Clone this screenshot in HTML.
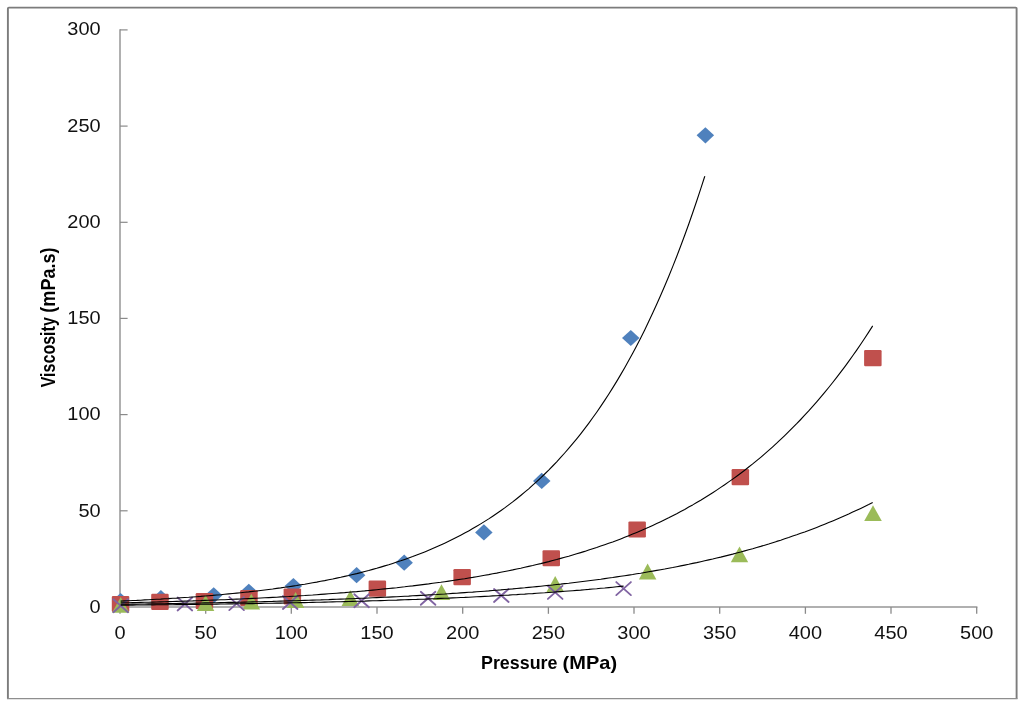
<!DOCTYPE html>
<html><head><meta charset="utf-8"><title>Viscosity vs Pressure</title>
<style>
html,body{margin:0;padding:0;background:#fff;}
body{width:1024px;height:719px;overflow:hidden;font-family:"Liberation Sans",sans-serif;}
svg{display:block;}
text{font-family:"Liberation Sans",sans-serif;fill:#111;}
.tl{font-size:18.4px;}
.tt{font-size:18px;font-weight:bold;fill:#000;}
</style></head><body>
<svg width="1024" height="719" viewBox="0 0 1024 719">
<rect x="0" y="0" width="1024" height="719" fill="#ffffff"/>

<path d="M7.9 698.7 L7.9 8.6 Q7.9 7.6 8.9 7.6 L1015.6 7.6 Q1016.6 7.6 1016.6 8.6 L1016.6 698.7" fill="none" stroke="#7c7c7c" stroke-width="1.9"/>
<path d="M7 698.7 L1017.5 698.7" fill="none" stroke="#8e8e8e" stroke-width="1.2"/>
<g stroke="#969696" stroke-width="1.5" fill="none">
<path d="M120 29.3 L120 613.8"/>
<path d="M120 607 L977.4 607"/>
</g>
<g stroke="#8a8a8a" stroke-width="1.2" fill="none">
<path d="M120 607.0 L127.6 607.0"/>
<path d="M120 510.8 L127.6 510.8"/>
<path d="M120 414.6 L127.6 414.6"/>
<path d="M120 318.4 L127.6 318.4"/>
<path d="M120 222.3 L127.6 222.3"/>
<path d="M120 126.1 L127.6 126.1"/>
<path d="M120 29.9 L127.6 29.9"/>
</g><g stroke="#8a8a8a" stroke-width="1.3" fill="none">
<path d="M205.7 607 L205.7 613.8"/>
<path d="M291.3 607 L291.3 613.8"/>
<path d="M377.0 607 L377.0 613.8"/>
<path d="M462.7 607 L462.7 613.8"/>
<path d="M548.4 607 L548.4 613.8"/>
<path d="M634.0 607 L634.0 613.8"/>
<path d="M719.7 607 L719.7 613.8"/>
<path d="M805.4 607 L805.4 613.8"/>
<path d="M891.0 607 L891.0 613.8"/>
<path d="M976.7 607 L976.7 613.8"/>
</g>
<g opacity="0.999">
<text class="tl" text-anchor="end" transform="translate(100.6 613.2) scale(1.085 1)">0</text>
<text class="tl" text-anchor="end" transform="translate(100.6 517.0) scale(1.085 1)">50</text>
<text class="tl" text-anchor="end" transform="translate(100.6 420.0) scale(1.085 1)">100</text>
<text class="tl" text-anchor="end" transform="translate(100.6 323.8) scale(1.085 1)">150</text>
<text class="tl" text-anchor="end" transform="translate(100.6 227.7) scale(1.085 1)">200</text>
<text class="tl" text-anchor="end" transform="translate(100.6 131.5) scale(1.085 1)">250</text>
<text class="tl" text-anchor="end" transform="translate(100.6 35.3) scale(1.085 1)">300</text>
<text class="tl" text-anchor="middle" transform="translate(120.0 639) scale(1.085 1)">0</text>
<text class="tl" text-anchor="middle" transform="translate(205.7 639) scale(1.085 1)">50</text>
<text class="tl" text-anchor="middle" transform="translate(291.3 639) scale(1.085 1)">100</text>
<text class="tl" text-anchor="middle" transform="translate(377.0 639) scale(1.085 1)">150</text>
<text class="tl" text-anchor="middle" transform="translate(462.7 639) scale(1.085 1)">200</text>
<text class="tl" text-anchor="middle" transform="translate(548.4 639) scale(1.085 1)">250</text>
<text class="tl" text-anchor="middle" transform="translate(634.0 639) scale(1.085 1)">300</text>
<text class="tl" text-anchor="middle" transform="translate(719.7 639) scale(1.085 1)">350</text>
<text class="tl" text-anchor="middle" transform="translate(805.4 639) scale(1.085 1)">400</text>
<text class="tl" text-anchor="middle" transform="translate(891.0 639) scale(1.085 1)">450</text>
<text class="tl" text-anchor="middle" transform="translate(976.7 639) scale(1.085 1)">500</text>
<text class="tt" transform="translate(481 669.2) scale(0.993 1)">Pressure</text>
<text class="tt" transform="translate(562.6 669.2) scale(1.113 1)">(MPa)</text>
<text class="tt" transform="translate(55 387.3) rotate(-90) scale(0.892 1.085)">Viscosity</text>
<text class="tt" transform="translate(55 312.65) rotate(-90) scale(1.003 1.085)">(mPa.s)</text>
</g>
<g fill="#4f81bd">
<path d="M120.6 592.9 L129.3 601.0 L120.6 609.1 L111.8 601.0 Z"/>
<path d="M160.9 590.1 L169.7 598.2 L160.9 606.3 L152.2 598.2 Z"/>
<path d="M213.7 587.2 L222.4 595.3 L213.7 603.4 L204.9 595.3 Z"/>
<path d="M248.8 583.7 L257.6 591.8 L248.8 599.9 L240.1 591.8 Z"/>
<path d="M293.4 577.9 L302.1 586.0 L293.4 594.1 L284.6 586.0 Z"/>
<path d="M356.6 567.1 L365.4 575.2 L356.6 583.3 L347.9 575.2 Z"/>
<path d="M404.2 554.6 L412.9 562.7 L404.2 570.8 L395.4 562.7 Z"/>
<path d="M483.9 524.3 L492.6 532.4 L483.9 540.5 L475.1 532.4 Z"/>
<path d="M541.7 472.8 L550.5 480.9 L541.7 489.0 L533.0 480.9 Z"/>
<path d="M630.8 329.9 L639.5 338.0 L630.8 346.1 L622.0 338.0 Z"/>
<path d="M705.4 127.2 L714.1 135.3 L705.4 143.4 L696.6 135.3 Z"/>
</g><g fill="#c0504d">
<rect x="111.8" y="595.9" width="17.5" height="16.1" rx="1.2" ry="1.2"/>
<rect x="151.2" y="593.8" width="17.5" height="16.1" rx="1.2" ry="1.2"/>
<rect x="195.7" y="593.0" width="17.5" height="16.1" rx="1.2" ry="1.2"/>
<rect x="240.2" y="590.0" width="17.5" height="16.1" rx="1.2" ry="1.2"/>
<rect x="283.6" y="588.4" width="17.5" height="16.1" rx="1.2" ry="1.2"/>
<rect x="368.6" y="580.6" width="17.5" height="16.1" rx="1.2" ry="1.2"/>
<rect x="453.4" y="569.1" width="17.5" height="16.1" rx="1.2" ry="1.2"/>
<rect x="542.5" y="550.2" width="17.5" height="16.1" rx="1.2" ry="1.2"/>
<rect x="628.4" y="521.4" width="17.5" height="16.1" rx="1.2" ry="1.2"/>
<rect x="731.6" y="469.1" width="17.5" height="16.1" rx="1.2" ry="1.2"/>
<rect x="864.1" y="350.1" width="17.5" height="16.1" rx="1.2" ry="1.2"/>
</g><g fill="#9bbb59">
<path d="M120.7 597.0 L129.4 612.8 L112.0 612.8 Z"/>
<path d="M205.6 595.1 L214.3 610.9 L196.8 610.9 Z"/>
<path d="M251.3 593.7 L260.1 609.5 L242.6 609.5 Z"/>
<path d="M295.6 592.1 L304.4 607.9 L286.9 607.9 Z"/>
<path d="M350.3 590.3 L359.1 606.1 L341.6 606.1 Z"/>
<path d="M441.5 584.3 L450.2 600.1 L432.8 600.1 Z"/>
<path d="M555.2 576.1 L564.0 591.9 L546.5 591.9 Z"/>
<path d="M647.6 563.6 L656.4 579.4 L638.9 579.4 Z"/>
<path d="M739.5 546.4 L748.2 562.2 L730.8 562.2 Z"/>
<path d="M873.0 505.3 L881.8 521.1 L864.2 521.1 Z"/>
</g><g stroke="#8064a2" stroke-width="1.85" stroke-linecap="round" fill="none">
<path d="M113.4 599.2 L128.0 612.2 M113.4 612.2 L128.0 599.2"/>
<path d="M177.6 597.5 L192.2 610.5 M177.6 610.5 L192.2 597.5"/>
<path d="M229.3 597.1 L243.9 610.1 M229.3 610.1 L243.9 597.1"/>
<path d="M282.9 596.0 L297.5 609.0 M282.9 609.0 L297.5 596.0"/>
<path d="M354.3 594.2 L368.9 607.2 M354.3 607.2 L368.9 594.2"/>
<path d="M420.8 591.8 L435.4 604.8 M420.8 604.8 L435.4 591.8"/>
<path d="M494.0 589.0 L508.6 602.0 M494.0 602.0 L508.6 589.0"/>
<path d="M547.9 585.9 L562.5 598.9 M547.9 598.9 L562.5 585.9"/>
<path d="M616.3 582.1 L630.9 595.1 M616.3 595.1 L630.9 582.1"/>
</g>
<g stroke="#000" stroke-width="1.1" fill="none" stroke-linejoin="round">
<path d="M120.7 601.1 L124.7 600.9 L128.7 600.7 L132.7 600.5 L136.7 600.4 L140.7 600.2 L144.7 599.9 L148.7 599.7 L152.7 599.5 L156.7 599.3 L160.7 599.1 L164.7 598.8 L168.7 598.6 L172.7 598.3 L176.7 598.1 L180.7 597.8 L184.7 597.5 L188.7 597.3 L192.7 597.0 L196.7 596.7 L200.7 596.4 L204.7 596.0 L208.7 595.7 L212.7 595.4 L216.7 595.0 L220.7 594.7 L224.7 594.3 L228.7 593.9 L232.7 593.5 L236.7 593.1 L240.7 592.7 L244.7 592.3 L248.7 591.9 L252.7 591.4 L256.7 591.0 L260.7 590.5 L264.7 590.0 L268.7 589.5 L272.7 589.0 L276.7 588.4 L280.7 587.9 L284.7 587.3 L288.7 586.7 L292.7 586.1 L296.7 585.5 L300.7 584.8 L304.7 584.2 L308.7 583.5 L312.7 582.8 L316.7 582.1 L320.7 581.3 L324.7 580.6 L328.7 579.8 L332.7 579.0 L336.7 578.1 L340.7 577.3 L344.7 576.4 L348.7 575.5 L352.7 574.5 L356.7 573.6 L360.7 572.6 L364.7 571.5 L368.7 570.5 L372.7 569.4 L376.7 568.3 L380.7 567.1 L384.7 565.9 L388.7 564.7 L392.7 563.4 L396.7 562.1 L400.7 560.8 L404.7 559.4 L408.7 558.0 L412.7 556.6 L416.7 555.0 L420.7 553.5 L424.7 551.9 L428.7 550.3 L432.7 548.6 L436.7 546.8 L440.7 545.0 L444.7 543.2 L448.7 541.3 L452.7 539.3 L456.7 537.3 L460.7 535.2 L464.7 533.1 L468.7 530.9 L472.7 528.6 L476.7 526.3 L480.7 523.9 L484.7 521.4 L488.7 518.9 L492.7 516.2 L496.7 513.5 L500.7 510.7 L504.7 507.9 L508.7 504.9 L512.7 501.9 L516.7 498.7 L520.7 495.5 L524.7 492.2 L528.7 488.8 L532.7 485.2 L536.7 481.6 L540.7 477.9 L544.7 474.0 L548.7 470.1 L552.7 466.0 L556.7 461.8 L560.7 457.4 L564.7 453.0 L568.7 448.4 L572.7 443.7 L576.7 438.8 L580.7 433.8 L584.7 428.6 L588.7 423.3 L592.7 417.8 L596.7 412.2 L600.7 406.4 L604.7 400.4 L608.7 394.2 L612.7 387.9 L616.7 381.4 L620.7 374.6 L624.7 367.7 L628.7 360.6 L632.7 353.2 L636.7 345.7 L640.7 337.9 L644.7 329.9 L648.7 321.6 L652.7 313.1 L656.7 304.3 L660.7 295.3 L664.7 286.0 L668.7 276.5 L672.7 266.6 L676.7 256.5 L680.7 246.0 L684.7 235.3 L688.7 224.2 L692.7 212.8 L696.7 201.0 L700.7 188.9 L704.7 176.5 L704.8 176.1"/>
<path d="M120.7 602.9 L124.7 602.8 L128.7 602.7 L132.7 602.6 L136.7 602.5 L140.7 602.4 L144.7 602.3 L148.7 602.2 L152.7 602.1 L156.7 602.0 L160.7 601.9 L164.7 601.8 L168.7 601.6 L172.7 601.5 L176.7 601.4 L180.7 601.3 L184.7 601.1 L188.7 601.0 L192.7 600.9 L196.7 600.7 L200.7 600.6 L204.7 600.4 L208.7 600.3 L212.7 600.1 L216.7 600.0 L220.7 599.8 L224.7 599.7 L228.7 599.5 L232.7 599.3 L236.7 599.1 L240.7 599.0 L244.7 598.8 L248.7 598.6 L252.7 598.4 L256.7 598.2 L260.7 598.0 L264.7 597.8 L268.7 597.6 L272.7 597.4 L276.7 597.2 L280.7 596.9 L284.7 596.7 L288.7 596.5 L292.7 596.2 L296.7 596.0 L300.7 595.7 L304.7 595.5 L308.7 595.2 L312.7 595.0 L316.7 594.7 L320.7 594.4 L324.7 594.1 L328.7 593.8 L332.7 593.5 L336.7 593.2 L340.7 592.9 L344.7 592.6 L348.7 592.2 L352.7 591.9 L356.7 591.6 L360.7 591.2 L364.7 590.9 L368.7 590.5 L372.7 590.1 L376.7 589.7 L380.7 589.3 L384.7 588.9 L388.7 588.5 L392.7 588.1 L396.7 587.7 L400.7 587.2 L404.7 586.8 L408.7 586.3 L412.7 585.9 L416.7 585.4 L420.7 584.9 L424.7 584.4 L428.7 583.9 L432.7 583.3 L436.7 582.8 L440.7 582.3 L444.7 581.7 L448.7 581.1 L452.7 580.5 L456.7 579.9 L460.7 579.3 L464.7 578.7 L468.7 578.0 L472.7 577.4 L476.7 576.7 L480.7 576.0 L484.7 575.3 L488.7 574.6 L492.7 573.8 L496.7 573.1 L500.7 572.3 L504.7 571.5 L508.7 570.7 L512.7 569.9 L516.7 569.0 L520.7 568.2 L524.7 567.3 L528.7 566.4 L532.7 565.5 L536.7 564.5 L540.7 563.6 L544.7 562.6 L548.7 561.6 L552.7 560.5 L556.7 559.5 L560.7 558.4 L564.7 557.3 L568.7 556.2 L572.7 555.0 L576.7 553.8 L580.7 552.6 L584.7 551.4 L588.7 550.1 L592.7 548.8 L596.7 547.5 L600.7 546.1 L604.7 544.7 L608.7 543.3 L612.7 541.9 L616.7 540.4 L620.7 538.9 L624.7 537.3 L628.7 535.7 L632.7 534.1 L636.7 532.5 L640.7 530.8 L644.7 529.0 L648.7 527.3 L652.7 525.4 L656.7 523.6 L660.7 521.7 L664.7 519.7 L668.7 517.8 L672.7 515.7 L676.7 513.7 L680.7 511.5 L684.7 509.4 L688.7 507.1 L692.7 504.9 L696.7 502.5 L700.7 500.2 L704.7 497.7 L708.7 495.2 L712.7 492.7 L716.7 490.1 L720.7 487.4 L724.7 484.7 L728.7 481.9 L732.7 479.1 L736.7 476.2 L740.7 473.2 L744.7 470.2 L748.7 467.0 L752.7 463.9 L756.7 460.6 L760.7 457.3 L764.7 453.9 L768.7 450.4 L772.7 446.8 L776.7 443.2 L780.7 439.4 L784.7 435.6 L788.7 431.7 L792.7 427.7 L796.7 423.7 L800.7 419.5 L804.7 415.2 L808.7 410.9 L812.7 406.4 L816.7 401.8 L820.7 397.2 L824.7 392.4 L828.7 387.5 L832.7 382.5 L836.7 377.4 L840.7 372.2 L844.7 366.8 L848.7 361.4 L852.7 355.8 L856.7 350.1 L860.7 344.2 L864.7 338.2 L868.7 332.1 L872.7 325.9"/>
<path d="M120.7 604.3 L124.7 604.3 L128.7 604.2 L132.7 604.1 L136.7 604.1 L140.7 604.0 L144.7 604.0 L148.7 603.9 L152.7 603.8 L156.7 603.8 L160.7 603.7 L164.7 603.7 L168.7 603.6 L172.7 603.5 L176.7 603.5 L180.7 603.4 L184.7 603.3 L188.7 603.2 L192.7 603.2 L196.7 603.1 L200.7 603.0 L204.7 602.9 L208.7 602.9 L212.7 602.8 L216.7 602.7 L220.7 602.6 L224.7 602.5 L228.7 602.4 L232.7 602.4 L236.7 602.3 L240.7 602.2 L244.7 602.1 L248.7 602.0 L252.7 601.9 L256.7 601.8 L260.7 601.7 L264.7 601.6 L268.7 601.5 L272.7 601.4 L276.7 601.2 L280.7 601.1 L284.7 601.0 L288.7 600.9 L292.7 600.8 L296.7 600.7 L300.7 600.5 L304.7 600.4 L308.7 600.3 L312.7 600.1 L316.7 600.0 L320.7 599.9 L324.7 599.7 L328.7 599.6 L332.7 599.4 L336.7 599.3 L340.7 599.1 L344.7 599.0 L348.7 598.8 L352.7 598.7 L356.7 598.5 L360.7 598.3 L364.7 598.2 L368.7 598.0 L372.7 597.8 L376.7 597.6 L380.7 597.4 L384.7 597.3 L388.7 597.1 L392.7 596.9 L396.7 596.7 L400.7 596.5 L404.7 596.3 L408.7 596.1 L412.7 595.8 L416.7 595.6 L420.7 595.4 L424.7 595.2 L428.7 594.9 L432.7 594.7 L436.7 594.5 L440.7 594.2 L444.7 594.0 L448.7 593.7 L452.7 593.4 L456.7 593.2 L460.7 592.9 L464.7 592.6 L468.7 592.3 L472.7 592.1 L476.7 591.8 L480.7 591.5 L484.7 591.2 L488.7 590.9 L492.7 590.5 L496.7 590.2 L500.7 589.9 L504.7 589.5 L508.7 589.2 L512.7 588.9 L516.7 588.5 L520.7 588.1 L524.7 587.8 L528.7 587.4 L532.7 587.0 L536.7 586.6 L540.7 586.2 L544.7 585.8 L548.7 585.4 L552.7 585.0 L556.7 584.5 L560.7 584.1 L564.7 583.6 L568.7 583.2 L572.7 582.7 L576.7 582.2 L580.7 581.7 L584.7 581.2 L588.7 580.7 L592.7 580.2 L596.7 579.7 L600.7 579.2 L604.7 578.6 L608.7 578.0 L612.7 577.5 L616.7 576.9 L620.7 576.3 L624.7 575.7 L628.7 575.1 L632.7 574.5 L636.7 573.8 L640.7 573.2 L644.7 572.5 L648.7 571.8 L652.7 571.1 L656.7 570.4 L660.7 569.7 L664.7 569.0 L668.7 568.2 L672.7 567.5 L676.7 566.7 L680.7 565.9 L684.7 565.1 L688.7 564.3 L692.7 563.4 L696.7 562.6 L700.7 561.7 L704.7 560.8 L708.7 559.9 L712.7 559.0 L716.7 558.0 L720.7 557.1 L724.7 556.1 L728.7 555.1 L732.7 554.1 L736.7 553.0 L740.7 552.0 L744.7 550.9 L748.7 549.8 L752.7 548.7 L756.7 547.5 L760.7 546.4 L764.7 545.2 L768.7 544.0 L772.7 542.7 L776.7 541.4 L780.7 540.2 L784.7 538.8 L788.7 537.5 L792.7 536.1 L796.7 534.8 L800.7 533.3 L804.7 531.9 L808.7 530.4 L812.7 528.9 L816.7 527.4 L820.7 525.8 L824.7 524.2 L828.7 522.6 L832.7 520.9 L836.7 519.2 L840.7 517.5 L844.7 515.7 L848.7 514.0 L852.7 512.1 L856.7 510.3 L860.7 508.4 L864.7 506.4 L868.7 504.5 L872.7 502.4"/>
<path d="M120.7 605.2 L124.7 605.1 L128.7 605.1 L132.7 605.1 L136.7 605.0 L140.7 605.0 L144.7 605.0 L148.7 604.9 L152.7 604.9 L156.7 604.8 L160.7 604.8 L164.7 604.8 L168.7 604.7 L172.7 604.7 L176.7 604.6 L180.7 604.6 L184.7 604.5 L188.7 604.5 L192.7 604.4 L196.7 604.4 L200.7 604.3 L204.7 604.3 L208.7 604.2 L212.7 604.2 L216.7 604.1 L220.7 604.0 L224.7 604.0 L228.7 603.9 L232.7 603.9 L236.7 603.8 L240.7 603.7 L244.7 603.7 L248.7 603.6 L252.7 603.6 L256.7 603.5 L260.7 603.4 L264.7 603.3 L268.7 603.3 L272.7 603.2 L276.7 603.1 L280.7 603.1 L284.7 603.0 L288.7 602.9 L292.7 602.8 L296.7 602.7 L300.7 602.6 L304.7 602.6 L308.7 602.5 L312.7 602.4 L316.7 602.3 L320.7 602.2 L324.7 602.1 L328.7 602.0 L332.7 601.9 L336.7 601.8 L340.7 601.7 L344.7 601.6 L348.7 601.5 L352.7 601.4 L356.7 601.3 L360.7 601.2 L364.7 601.1 L368.7 600.9 L372.7 600.8 L376.7 600.7 L380.7 600.6 L384.7 600.5 L388.7 600.3 L392.7 600.2 L396.7 600.1 L400.7 599.9 L404.7 599.8 L408.7 599.6 L412.7 599.5 L416.7 599.4 L420.7 599.2 L424.7 599.1 L428.7 598.9 L432.7 598.7 L436.7 598.6 L440.7 598.4 L444.7 598.2 L448.7 598.1 L452.7 597.9 L456.7 597.7 L460.7 597.5 L464.7 597.4 L468.7 597.2 L472.7 597.0 L476.7 596.8 L480.7 596.6 L484.7 596.4 L488.7 596.2 L492.7 595.9 L496.7 595.7 L500.7 595.5 L504.7 595.3 L508.7 595.1 L512.7 594.8 L516.7 594.6 L520.7 594.3 L524.7 594.1 L528.7 593.8 L532.7 593.6 L536.7 593.3 L540.7 593.0 L544.7 592.8 L548.7 592.5 L552.7 592.2 L556.7 591.9 L560.7 591.6 L564.7 591.3 L568.7 591.0 L572.7 590.7 L576.7 590.4 L580.7 590.1 L584.7 589.7 L588.7 589.4 L592.7 589.0 L596.7 588.7 L600.7 588.3 L604.7 588.0 L608.7 587.6 L612.7 587.2 L616.7 586.8 L620.7 586.4 L623.6 586.1"/>
</g>
</svg></body></html>
